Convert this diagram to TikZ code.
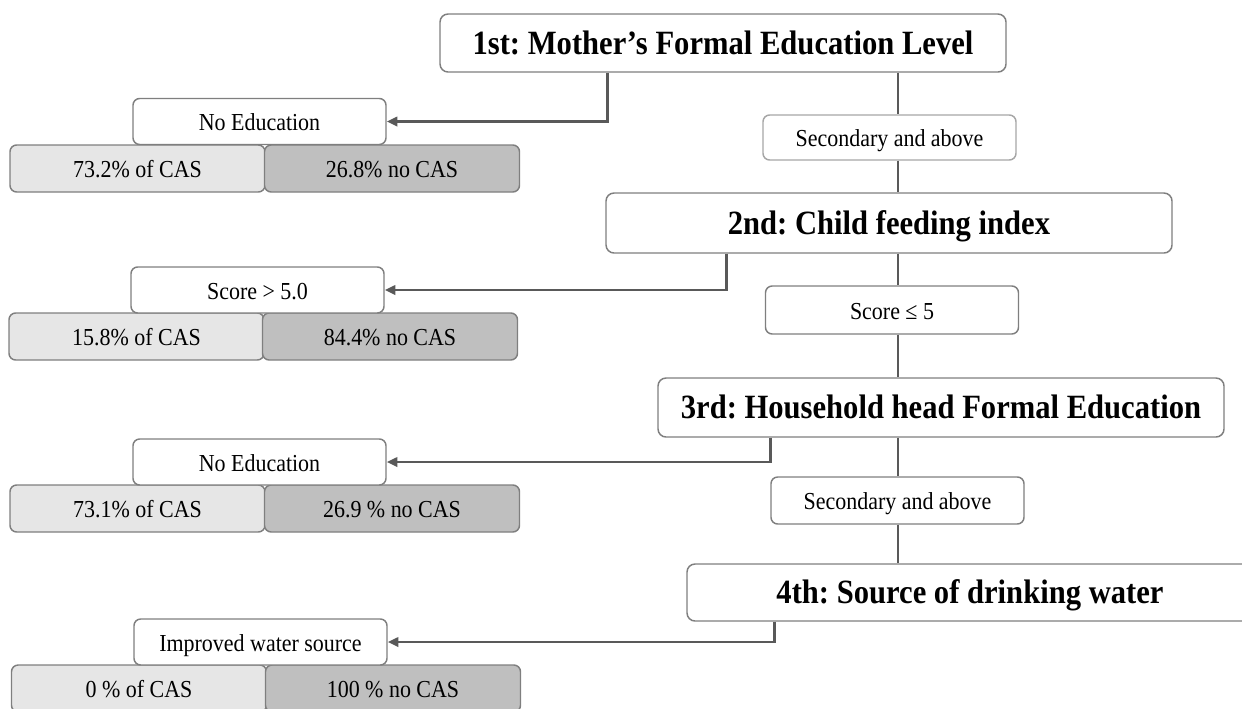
\documentclass[tikz,border=0pt]{standalone}
\usepackage{fontspec}
\setmainfont{Liberation Serif}[FakeStretch=0.9]
\usetikzlibrary{arrows.meta}
\definecolor{edgegray}{HTML}{7F7F7F}
\definecolor{softgray}{HTML}{A6A6A6}
\definecolor{linegray}{HTML}{595959}
\definecolor{lightfill}{HTML}{E6E6E6}
\definecolor{darkfill}{HTML}{BFBFBF}
\frenchspacing
\begin{document}
\begin{tikzpicture}[x=0.75pt,y=-0.75pt,
  level/.style={draw=edgegray,line width=1.1pt,rounded corners=6pt,fill=white,
    inner sep=0pt,minimum width=424.5pt,text height=18pt,text depth=1pt,
    font=\fontsize{25.5}{29}\selectfont\bfseries},
  split/.style={draw=edgegray,line width=1.1pt,rounded corners=5pt,fill=white,
    inner sep=0pt,minimum width=189.75pt,minimum height=34.5pt,
    text height=15pt,text depth=1pt,
    font=\fontsize{18.3}{21}\selectfont},
  share/.style={split,minimum width=191.25pt,minimum height=35.25pt},
  link/.style={draw=linegray,line width=1.9pt},
  arrow/.style={link,-{Triangle[length=8pt,width=7pt]}}]%
% page the size of the reference
\useasboundingbox (0,0) rectangle (1242,708);
\coordinate (trunk) at (898,0);
% result bars
\node[share,fill=lightfill] (cas1) at (137.5,168.5) {73.2\% of CAS};
\node[share,fill=darkfill] (no1) at (392,168.5) {26.8\% no CAS};
\node[share,fill=lightfill] (cas2) at (136.5,336.5) {15.8\% of CAS};
\node[share,fill=darkfill] (no2) at (390,336.5) {84.4\% no CAS};
\node[share,fill=lightfill] (cas3) at (137.5,508.5) {73.1\% of CAS};
\node[share,fill=darkfill] (no3) at (392,508.5) {26.9 \% no CAS};
\node[share,fill=lightfill] (cas4) at (139,688.5) {0 \% of CAS};
\node[share,fill=darkfill] (no4) at (393,688.5) {100 \% no CAS};
% left branch labels
\node[split] (noedu1) at (259.5,121.5) {No Education};
\node[split] (score1) at (257.5,290) {Score > 5.0};
\node[split] (noedu2) at (259.5,462) {No Education};
\node[split] (water) at (260.5,642) {Improved water source};
% main levels
\node[level,minimum height=43.5pt] (first) at (723,43) {1st: Mother’s Formal Education Level};
\node[level,minimum height=45pt] (second) at (889,223) {2nd: Child feeding index};
\node[level,minimum height=44.25pt] (third) at (941,407.5) {3rd: Household head Formal Education};
\node[level,minimum height=42.75pt] (fourth) at (970,592.5) {4th: Source of drinking water};
% right branch labels
\node[split,draw=softgray,minimum height=33.75pt] (sec1) at (889.5,137.5) {Secondary and above};
\node[split,minimum height=36pt] (score2) at (892,310) {Score ≤ 5};
\node[split,minimum height=35.25pt] (sec2) at (897.5,500.5) {Secondary and above};
% trunk
\draw[link] (first.south -| trunk) -- (sec1.north -| trunk);
\draw[link] (sec1.south -| trunk) -- (second.north -| trunk);
\draw[link] (second.south -| trunk) -- (score2.north -| trunk);
\draw[link] (score2.south -| trunk) -- (third.north -| trunk);
\draw[link] (third.south -| trunk) -- (sec2.north -| trunk);
\draw[link] (sec2.south -| trunk) -- (fourth.north -| trunk);
% left branches
\draw[arrow] (first.south west) ++(168,0) |- (noedu1.east);
\draw[arrow] (second.south west) ++(121,0) |- (score1.east);
\draw[arrow] (third.south west) ++(113,0) |- (noedu2.east);
\draw[arrow] (fourth.south west) ++(88,0) |- (water.east);
\end{tikzpicture}
\end{document}
